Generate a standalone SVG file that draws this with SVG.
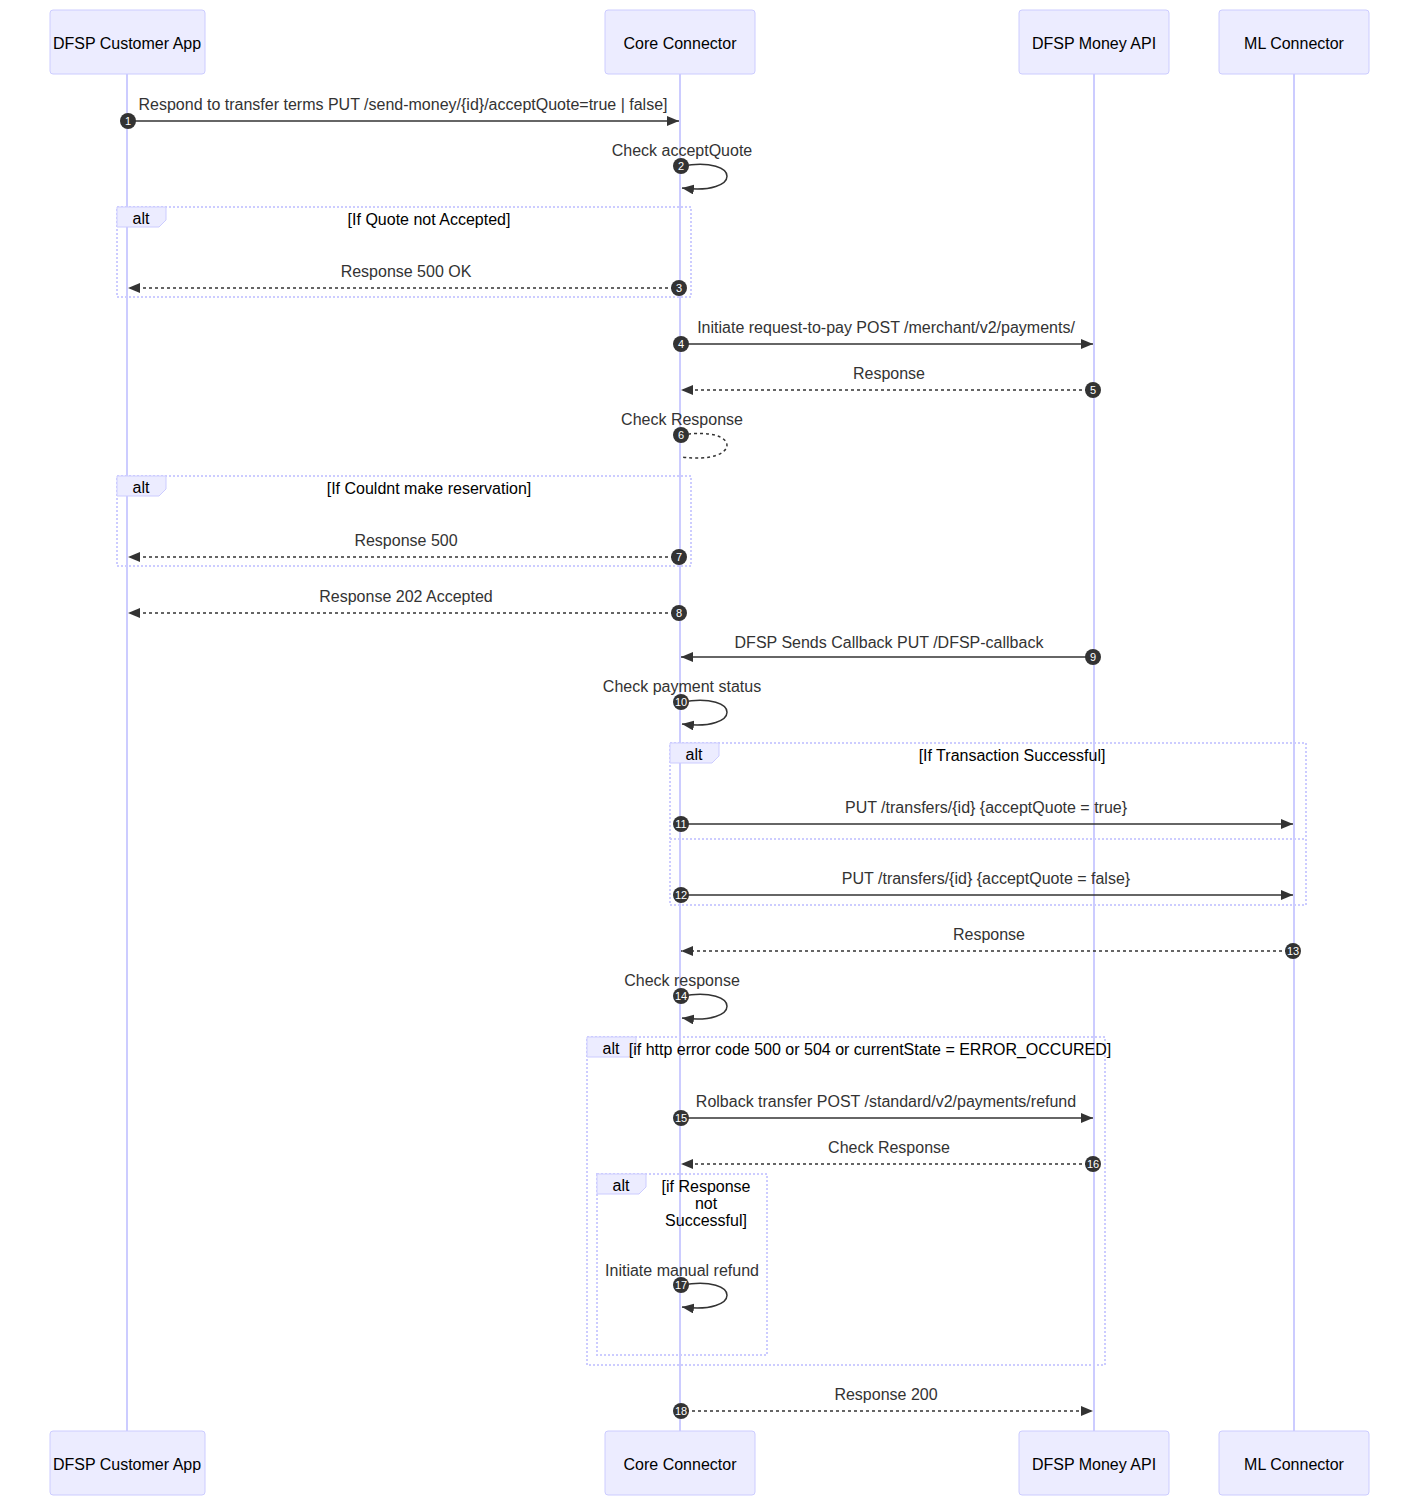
<svg xmlns="http://www.w3.org/2000/svg" width="1420" height="1507" viewBox="0 0 1420 1507">
<style>
.actor{fill:#ECECFF;stroke:#CCCCFF;stroke-width:1}
.at{font-family:"Liberation Sans",Arial,sans-serif;font-size:16px;fill:#000;text-anchor:middle;dominant-baseline:central}
.life{stroke:#CCCCFF;stroke-width:2;fill:none}
.msg{stroke:#333;stroke-width:1.5;fill:none}
.dash{stroke-dasharray:3,3}
.mt{font-family:"Liberation Sans",Arial,sans-serif;font-size:16px;fill:#333;text-anchor:middle}
.loop{fill:none;stroke:#CCCCFF;stroke-width:2;stroke-dasharray:2,2}
.lbl{fill:#ECECFF;stroke:#CCCCFF}
.lt{font-family:"Liberation Sans",Arial,sans-serif;font-size:16px;fill:#000;text-anchor:middle}
.num circle{fill:#333}
.nt{font-family:"Liberation Sans",Arial,sans-serif;font-size:11px;fill:#fff;text-anchor:middle;dominant-baseline:central}
</style>
<defs>
<marker id="ah" viewBox="0 0 12 10" refX="12" refY="5" markerWidth="12" markerHeight="10" orient="auto" markerUnits="userSpaceOnUse"><path d="M0,0 L12,5 L0,10 z" fill="#333"/></marker>
</defs>
<rect width="1420" height="1507" fill="#fff"/>
<g id="lifelines">
<line class="life" x1="127" y1="74" x2="127" y2="1431"/>
<line class="life" x1="680" y1="74" x2="680" y2="1431"/>
<line class="life" x1="1094" y1="74" x2="1094" y2="1431"/>
<line class="life" x1="1294" y1="74" x2="1294" y2="1431"/>
</g>
<g id="actor-app"><rect class="actor" x="50" y="10" width="155" height="64" rx="3"/><text class="at" x="127" y="43">DFSP Customer App</text>
<rect class="actor" x="50" y="1431" width="155" height="64" rx="3"/><text class="at" x="127" y="1464">DFSP Customer App</text></g>
<g id="actor-core"><rect class="actor" x="605" y="10" width="150" height="64" rx="3"/><text class="at" x="680" y="43">Core Connector</text>
<rect class="actor" x="605" y="1431" width="150" height="64" rx="3"/><text class="at" x="680" y="1464">Core Connector</text></g>
<g id="actor-money"><rect class="actor" x="1019" y="10" width="150" height="64" rx="3"/><text class="at" x="1094" y="43">DFSP Money API</text>
<rect class="actor" x="1019" y="1431" width="150" height="64" rx="3"/><text class="at" x="1094" y="1464">DFSP Money API</text></g>
<g id="actor-ml"><rect class="actor" x="1219" y="10" width="150" height="64" rx="3"/><text class="at" x="1294" y="43">ML Connector</text>
<rect class="actor" x="1219" y="1431" width="150" height="64" rx="3"/><text class="at" x="1294" y="1464">ML Connector</text></g>

<g id="alts">
<rect class="loop" x="117" y="207" width="574" height="90"/>
<path class="lbl" d="M117,207 H166 V220 L159,227 H117 Z"/><text class="lt" x="141" y="224">alt</text>
<text class="lt" x="429" y="225">[If Quote not Accepted]</text>
<rect class="loop" x="117" y="476" width="574" height="90"/>
<path class="lbl" d="M117,476 H166 V489 L159,496 H117 Z"/><text class="lt" x="141" y="493">alt</text>
<text class="lt" x="429" y="494">[If Couldnt make reservation]</text>
<rect class="loop" x="670" y="743" width="636" height="162"/>
<line class="loop" x1="670" y1="839" x2="1306" y2="839"/>
<path class="lbl" d="M670,743 H719 V756 L712,763 H670 Z"/><text class="lt" x="694" y="760">alt</text>
<text class="lt" x="1012" y="761">[If Transaction Successful]</text>
<rect class="loop" x="587" y="1037" width="518" height="328"/>
<path class="lbl" d="M587,1037 H636 V1050 L629,1057 H587 Z"/><text class="lt" x="611" y="1054">alt</text>
<text class="lt" x="870" y="1055">[if http error code 500 or 504 or currentState = ERROR_OCCURED]</text>
<rect class="loop" x="597" y="1174" width="170" height="181"/>
<path class="lbl" d="M597,1174 H646 V1187 L639,1194 H597 Z"/><text class="lt" x="621" y="1191">alt</text>
<text class="lt" x="706" y="1192">[if Response</text>
<text class="lt" x="706" y="1209">not</text>
<text class="lt" x="706" y="1226">Successful]</text>
</g>

<g id="connectors">
<line class="msg" x1="127" y1="121" x2="679" y2="121" marker-end="url(#ah)"/>
<text class="mt" x="403" y="110">Respond to transfer terms PUT /send-money/{id}/acceptQuote=true | false]</text>
<path class="msg" d="M682,166 C742,156 742,196 682,188" marker-end="url(#ah)"/>
<text class="mt" x="682" y="156">Check acceptQuote</text>
<line class="msg dash" x1="680" y1="288" x2="128" y2="288" marker-end="url(#ah)"/>
<text class="mt" x="406" y="277">Response 500 OK</text>
<line class="msg" x1="680" y1="344" x2="1093" y2="344" marker-end="url(#ah)"/>
<text class="mt" x="886" y="333">Initiate request-to-pay POST /merchant/v2/payments/</text>
<line class="msg dash" x1="1094" y1="390" x2="681" y2="390" marker-end="url(#ah)"/>
<text class="mt" x="889" y="379">Response</text>
<path class="msg dash" d="M682,435 C742,425 742,465 682,457"/>
<text class="mt" x="682" y="425">Check Response</text>
<line class="msg dash" x1="680" y1="557" x2="128" y2="557" marker-end="url(#ah)"/>
<text class="mt" x="406" y="546">Response 500</text>
<line class="msg dash" x1="680" y1="613" x2="128" y2="613" marker-end="url(#ah)"/>
<text class="mt" x="406" y="602">Response 202 Accepted</text>
<line class="msg" x1="1094" y1="657" x2="681" y2="657" marker-end="url(#ah)"/>
<text class="mt" x="889" y="648">DFSP Sends Callback PUT /DFSP-callback</text>
<path class="msg" d="M682,702 C742,692 742,732 682,724" marker-end="url(#ah)"/>
<text class="mt" x="682" y="692">Check payment status</text>
<line class="msg" x1="680" y1="824" x2="1293" y2="824" marker-end="url(#ah)"/>
<text class="mt" x="986" y="813">PUT /transfers/{id} {acceptQuote = true}</text>
<line class="msg" x1="680" y1="895" x2="1293" y2="895" marker-end="url(#ah)"/>
<text class="mt" x="986" y="884">PUT /transfers/{id} {acceptQuote = false}</text>
<line class="msg dash" x1="1294" y1="951" x2="681" y2="951" marker-end="url(#ah)"/>
<text class="mt" x="989" y="940">Response</text>
<path class="msg" d="M682,996 C742,986 742,1026 682,1018" marker-end="url(#ah)"/>
<text class="mt" x="682" y="986">Check response</text>
<line class="msg" x1="680" y1="1118" x2="1093" y2="1118" marker-end="url(#ah)"/>
<text class="mt" x="886" y="1107">Rolback transfer POST /standard/v2/payments/refund</text>
<line class="msg dash" x1="1094" y1="1164" x2="681" y2="1164" marker-end="url(#ah)"/>
<text class="mt" x="889" y="1153">Check Response</text>
<path class="msg" d="M682,1285 C742,1275 742,1315 682,1307" marker-end="url(#ah)"/>
<text class="mt" x="682" y="1276">Initiate manual refund</text>
<line class="msg dash" x1="680" y1="1411" x2="1093" y2="1411" marker-end="url(#ah)"/>
<text class="mt" x="886" y="1400">Response 200</text>
</g>

<g id="numbers" class="num">
<circle cx="128" cy="121" r="8"/><text class="nt" x="128" y="121">1</text>
<circle cx="681" cy="166" r="8"/><text class="nt" x="681" y="166">2</text>
<circle cx="679" cy="288" r="8"/><text class="nt" x="679" y="288">3</text>
<circle cx="681" cy="344" r="8"/><text class="nt" x="681" y="344">4</text>
<circle cx="1093" cy="390" r="8"/><text class="nt" x="1093" y="390">5</text>
<circle cx="681" cy="435" r="8"/><text class="nt" x="681" y="435">6</text>
<circle cx="679" cy="557" r="8"/><text class="nt" x="679" y="557">7</text>
<circle cx="679" cy="613" r="8"/><text class="nt" x="679" y="613">8</text>
<circle cx="1093" cy="657" r="8"/><text class="nt" x="1093" y="657">9</text>
<circle cx="681" cy="702" r="8"/><text class="nt" x="681" y="702">10</text>
<circle cx="681" cy="824" r="8"/><text class="nt" x="681" y="824">11</text>
<circle cx="681" cy="895" r="8"/><text class="nt" x="681" y="895">12</text>
<circle cx="1293" cy="951" r="8"/><text class="nt" x="1293" y="951">13</text>
<circle cx="681" cy="996" r="8"/><text class="nt" x="681" y="996">14</text>
<circle cx="681" cy="1118" r="8"/><text class="nt" x="681" y="1118">15</text>
<circle cx="1093" cy="1164" r="8"/><text class="nt" x="1093" y="1164">16</text>
<circle cx="681" cy="1285" r="8"/><text class="nt" x="681" y="1285">17</text>
<circle cx="681" cy="1411" r="8"/><text class="nt" x="681" y="1411">18</text>
</g>
</svg>
